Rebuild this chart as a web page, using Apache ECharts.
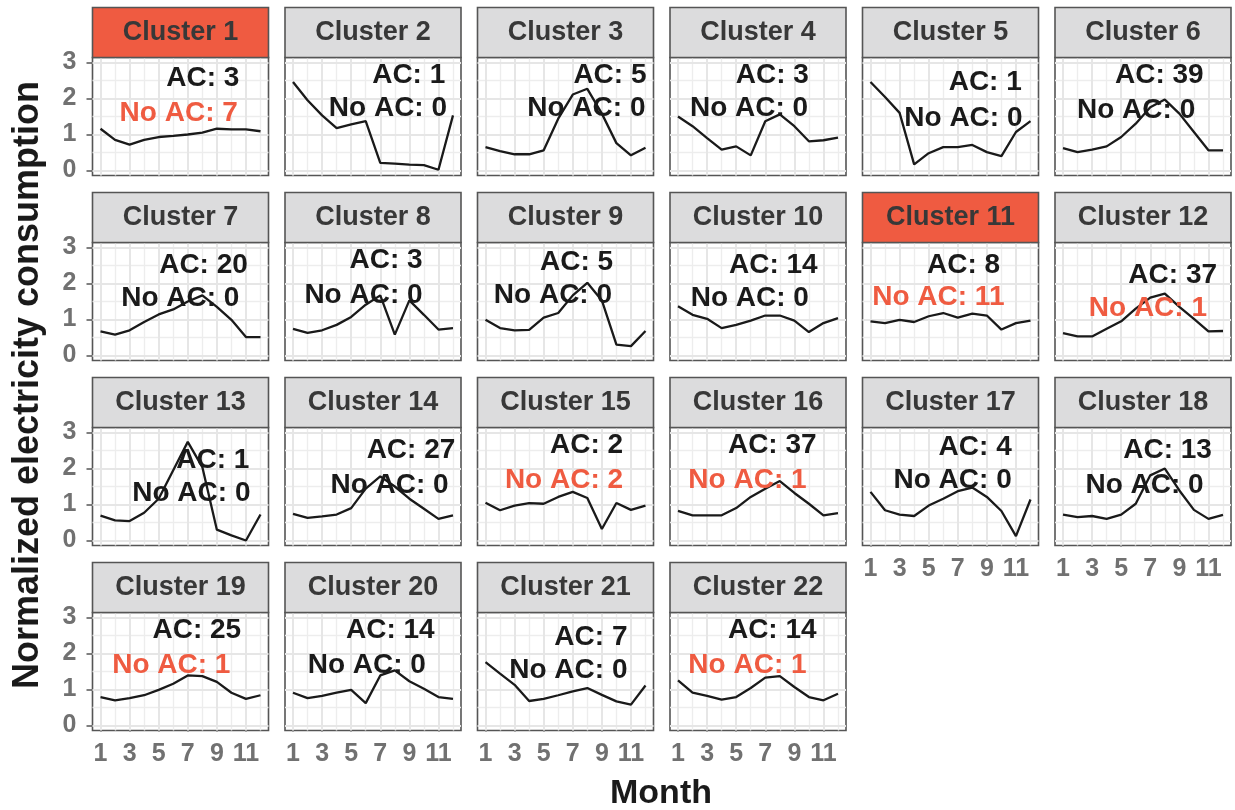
<!DOCTYPE html>
<html><head><meta charset="utf-8">
<script src="https://cdn.jsdelivr.net/npm/echarts@6/dist/echarts.min.js"></script>
<style>html,body{margin:0;padding:0;background:#fff}#c{width:1235px;height:810px}</style>
</head><body><div id="c"></div>
<script>
// ---------- data ----------
const months = [1,2,3,4,5,6,7,8,9,10,11,12];
const clusterNames = Array.from({length:22}, (_, i) => 'Cluster ' + (i + 1));
const acCounts   = [3,1,5,3,1,39,20,3,5,14,8,37,1,27,2,37,4,13,25,14,7,14];
const noAcCounts = [7,0,0,0,0,0,0,0,0,0,11,1,0,0,2,1,0,0,1,0,0,1];
const xTickValues = [1,3,5,7,9,11];
const yTickValues = [0,1,2,3];

const c1  = [1.16,0.85,0.72,0.85,0.93,0.96,1.00,1.05,1.16,1.14,1.14,1.09];
const c2  = [2.46,1.95,1.53,1.18,1.28,1.37,0.21,0.19,0.16,0.15,0.02,1.53];
const c3  = [0.65,0.54,0.45,0.45,0.56,1.44,2.11,2.27,1.58,0.76,0.42,0.63];
const c4  = [1.50,1.23,0.90,0.58,0.67,0.42,1.37,1.56,1.23,0.81,0.84,0.91];
const c5  = [2.46,2.04,1.60,0.17,0.48,0.65,0.65,0.71,0.51,0.40,1.07,1.37];
const c6  = [0.62,0.51,0.58,0.67,0.93,1.30,1.76,1.97,1.58,1.07,0.56,0.56];
const c7  = [0.67,0.58,0.70,0.93,1.14,1.28,1.50,1.67,1.35,0.99,0.51,0.51];
const c8  = [0.74,0.63,0.70,0.85,1.07,1.41,1.67,0.58,1.53,1.13,0.72,0.76];
const c9  = [0.99,0.76,0.70,0.71,1.05,1.18,1.67,2.02,1.53,0.30,0.26,0.68];
const c10 = [1.37,1.13,1.02,0.76,0.85,0.97,1.11,1.11,0.97,0.65,0.90,1.04];
const c11 = [0.95,0.90,0.99,0.93,1.09,1.18,1.05,1.16,1.11,0.72,0.90,0.97];
const c12 = [0.62,0.53,0.53,0.74,0.95,1.30,1.61,1.72,1.35,1.02,0.67,0.68];
const c13 = [0.69,0.56,0.54,0.77,1.16,1.95,2.74,2.04,0.30,0.14,0.00,0.72];
const c14 = [0.74,0.63,0.67,0.72,0.90,1.44,1.78,1.50,1.16,0.88,0.60,0.70];
const c15 = [1.05,0.84,0.97,1.04,1.02,1.21,1.35,1.18,0.32,1.04,0.85,0.97];
const c16 = [0.82,0.70,0.70,0.70,0.90,1.21,1.44,1.65,1.32,1.02,0.70,0.76];
const c17 = [1.35,0.84,0.72,0.68,0.97,1.16,1.37,1.47,1.21,0.82,0.12,1.14];
const c18 = [0.72,0.65,0.68,0.60,0.72,1.02,1.81,2.00,1.39,0.85,0.60,0.71];
const c19 = [0.79,0.70,0.76,0.84,0.99,1.16,1.39,1.37,1.21,0.91,0.74,0.84];
const c20 = [0.91,0.76,0.82,0.91,0.99,0.62,1.39,1.53,1.23,1.02,0.79,0.74];
const c21 = [1.76,1.44,1.13,0.68,0.74,0.84,0.95,1.04,0.85,0.67,0.58,1.11];
const c22 = [1.25,0.91,0.82,0.72,0.79,1.04,1.33,1.37,1.07,0.79,0.70,0.88];
const clusterSeries = [c1,c2,c3,c4,c5,c6,c7,c8,c9,c10,c11,c12,c13,c14,c15,c16,c17,c18,c19,c20,c21,c22];

// label anchors (right edge, vertical middle) in data coordinates [month, value]
const acLabelAnchor = [[10.55,2.55],[11.47,2.65],[12.07,2.65],[10.0,2.65],[11.4,2.46],[10.67,2.65],
  [11.13,2.51],[9.91,2.65],[9.77,2.6],[10.6,2.51],[9.91,2.51],[11.59,2.23],
  [11.24,2.23],[12.16,2.51],[10.46,2.65],[10.53,2.65],[10.71,2.6],[11.24,2.51],
  [10.67,2.65],[10.74,2.65],[10.76,2.46],[10.53,2.65]];
const noAcLabelAnchor = [[10.44,1.58],[11.59,1.72],[12.0,1.72],[9.95,1.72],[11.45,1.44],[10.09,1.67],
  [10.55,1.58],[9.91,1.67],[9.70,1.67],[10.0,1.58],[10.21,1.62],[10.9,1.30],
  [11.31,1.30],[11.70,1.53],[10.46,1.67],[9.84,1.67],[10.71,1.67],[10.67,1.53],
  [9.93,1.67],[10.14,1.67],[10.76,1.53],[9.84,1.67]];

// ---------- layout / style ----------
const FONT = '"Liberation Sans", Arial, Helvetica, sans-serif';
const L0 = 92.5, PX = 192.5, W = 176, T0 = 57.5, PY = 185, H = 118, STRIP_H = 50;
const NCOL = 6, N = clusterSeries.length;
const RED = '#EF5B41', STRIP_GRAY = '#DCDCDD', BORDER = '#555555';
const TICK_COLOR = '#717171';
const X_MIN = 0.45, X_MAX = 12.55, Y_MIN = -0.14, Y_MAX = 3.14;
const majorX = [1,3,5,7,9,11], minorX = [2,4,6,8,10,12];
const majorY = [0,1,2,3], minorY = [0.5,1.5,2.5];

const grids = [], xAxes = [], yAxes = [], series = [], graphics = [];
const labelBase = {show: true, position: 'left', distance: 0, align: 'right', verticalAlign: 'middle',
  fontSize: 28, fontWeight: 'bold', fontFamily: FONT, textBorderWidth: 0, textBorderColor: 'transparent',
  textShadowBlur: 0, opacity: 1};
for (let i = 0; i < N; i++) {
  const col = i % NCOL, row = Math.floor(i / NCOL);
  const left = L0 + col * PX, top = T0 + row * PY;
  const showX = i + NCOL >= N;
  const showY = col === 0;
  grids.push({left, top, width: W, height: H, show: true, backgroundColor: '#fff',
    borderColor: BORDER, borderWidth: 1.6, containLabel: false});
  xAxes.push({type: 'value', gridIndex: i, min: X_MIN, max: X_MAX,
    axisLine: {show: false}, splitLine: {show: false},
    axisTick: {show: showX, customValues: xTickValues, length: 6, lineStyle: {color: BORDER, width: 1.5}},
    axisLabel: {show: showX, customValues: xTickValues, margin: 11, fontSize: 25, fontWeight: 'bold',
      color: TICK_COLOR, fontFamily: FONT}});
  yAxes.push({type: 'value', gridIndex: i, min: Y_MIN, max: Y_MAX,
    axisLine: {show: false}, splitLine: {show: false},
    axisTick: {show: showY, customValues: yTickValues, length: 6, lineStyle: {color: BORDER, width: 1.5}},
    axisLabel: {show: showY, customValues: yTickValues, margin: 16, fontSize: 25, fontWeight: 'bold',
      color: TICK_COLOR, fontFamily: FONT}});
  // grid lines
  const ml = (arr, key, w, c) => arr.map(v => ({[key]: v, lineStyle: {width: w, color: c, type: 'solid'}}));
  series.push({type: 'line', xAxisIndex: i, yAxisIndex: i, data: [], silent: true, z: 1,
    markLine: {silent: true, z: 1, zlevel: 0, symbol: 'none', animation: false, label: {show: false},
      data: [].concat(ml(minorX, 'xAxis', 1.4, '#EDEDED'), ml(minorY, 'yAxis', 1.4, '#EDEDED'),
                      ml(majorX, 'xAxis', 2, '#E6E6E6'), ml(majorY, 'yAxis', 2, '#E6E6E6'))}});
  // data line
  series.push({type: 'line', xAxisIndex: i, yAxisIndex: i, z: 6, symbol: 'none', animation: false,
    lineStyle: {color: '#1a1a1a', width: 2.3}, data: months.map((m, k) => [m, clusterSeries[i][k]])});
  // annotation text
  const noCol = noAcCounts[i] > 0 ? RED : '#1a1a1a';
  series.push({type: 'scatter', xAxisIndex: i, yAxisIndex: i, z: 8, symbolSize: 0, silent: true, animation: false,
    clip: false, itemStyle: {opacity: 0},
    data: [
      {value: acLabelAnchor[i], label: Object.assign({}, labelBase, {formatter: 'AC: ' + acCounts[i], color: '#1a1a1a'})},
      {value: noAcLabelAnchor[i], label: Object.assign({}, labelBase, {formatter: 'No AC: ' + noAcCounts[i], color: noCol})}
    ],
    label: labelBase});
  // strip
  const highlight = noAcCounts[i] > acCounts[i];
  graphics.push({type: 'rect', z: 10, shape: {x: left, y: top - STRIP_H, width: W, height: STRIP_H},
    style: {fill: highlight ? RED : STRIP_GRAY, stroke: BORDER, lineWidth: 1.6}});
  graphics.push({type: 'text', z: 11, x: left + W / 2, y: top - STRIP_H / 2,
    style: {text: clusterNames[i], fill: '#383838', font: 'bold 27px ' + FONT,
      align: 'center', verticalAlign: 'middle', textAlign: 'center', textVerticalAlign: 'middle'}});
}
graphics.push({type: 'text', x: 661, y: 794,
  style: {text: 'Month', fill: '#1a1a1a', font: 'bold 34px ' + FONT,
    align: 'center', verticalAlign: 'middle', textAlign: 'center', textVerticalAlign: 'middle'}});
graphics.push({type: 'text', x: 28, y: 385, rotation: Math.PI / 2,
  style: {text: 'Normalized electricity consumption', fill: '#1a1a1a', font: 'bold 36px ' + FONT,
    align: 'center', verticalAlign: 'middle', textAlign: 'center', textVerticalAlign: 'middle'}});

const chart = echarts.init(document.getElementById('c'), null, {renderer: 'canvas'});
chart.setOption({animation: false, backgroundColor: '#fff',
  grid: grids, xAxis: xAxes, yAxis: yAxes, series, graphic: graphics});
</script></body></html>
